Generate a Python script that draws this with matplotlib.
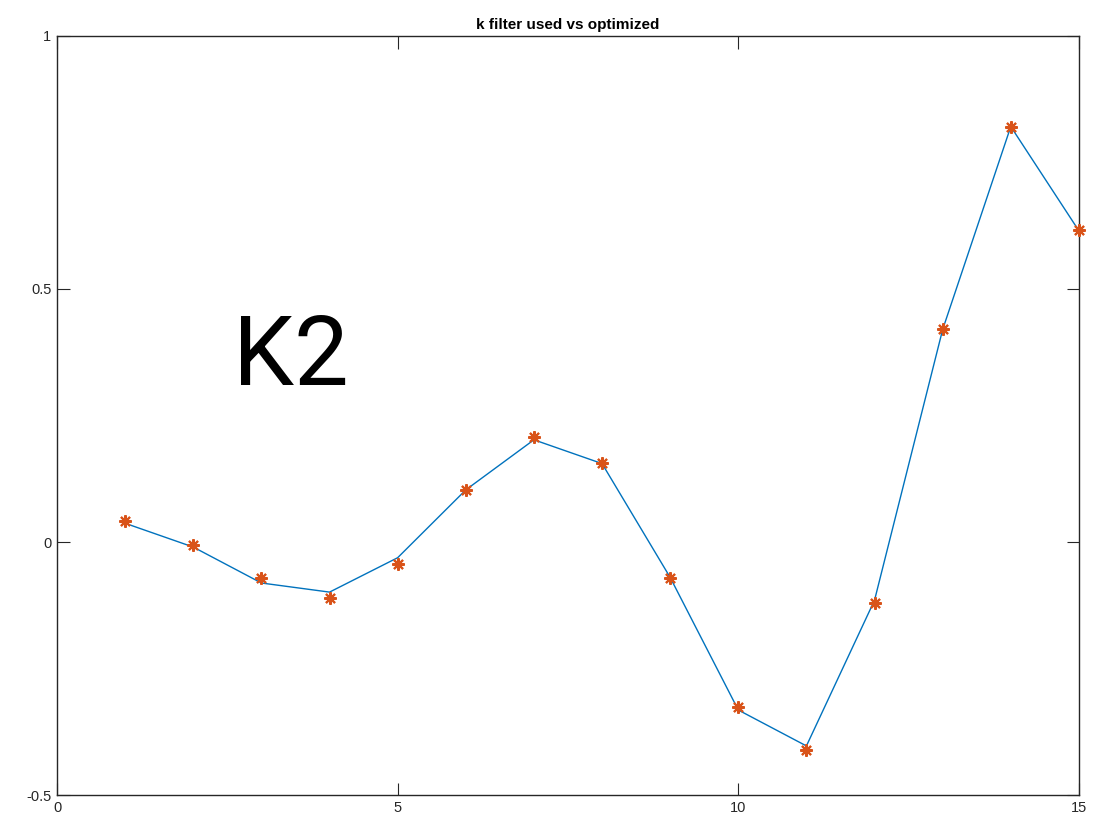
import numpy as np
import matplotlib.pyplot as plt

# filter taps: the one in use (line) and the optimized one (markers)
taps = np.arange(1, 16)
k_used = [0.037, -0.010, -0.081, -0.099, -0.031, 0.103, 0.202, 0.155,
          -0.070, -0.332, -0.403, -0.115, 0.420, 0.821, 0.615]
k_opt = [0.0415, -0.006, -0.072, -0.110, -0.044, 0.103, 0.207, 0.157,
         -0.072, -0.327, -0.412, -0.120, 0.420, 0.821, 0.617]

plt.rcParams['font.family'] = ['Liberation Sans', 'DejaVu Sans']

fig = plt.figure(figsize=(11.1, 8.16), dpi=100)
ax = fig.add_axes([0.0514, 0.0257, 0.9206, 0.9302])

ax.plot(taps, k_used, '-', color='#0072BD', lw=1.0, zorder=2)
ax.plot(taps, k_opt, linestyle='none', marker=(8, 2, 0), markersize=9,
        markeredgewidth=1.5, color='#D95319', zorder=3, clip_on=False)

ax.set_xlim(0, 15)
ax.set_ylim(-0.5, 1)
ax.set_xticks([0, 5, 10, 15])
ax.set_yticks([-0.5, 0, 0.5, 1])
ax.set_xticklabels(['0', '5', '10', '15'])
ax.set_yticklabels(['-0.5', '0', '0.5', '1'])
ax.tick_params(direction='in', length=9, width=0.8, colors='#262626',
               labelsize=10.5, top=True, right=True, pad=4)
for s in ax.spines.values():
    s.set_color('#262626')
    s.set_linewidth(1.0)

ax.set_title('k filter used vs optimized', fontsize=11, fontweight='bold',
             pad=5)
ax.text(2.58, 0.31, 'K2', fontsize=70, color='black', ha='left',
        va='baseline', family=['Roboto', 'Liberation Sans'],
        fontweight='normal')

fig.savefig('out.png', dpi=100)
